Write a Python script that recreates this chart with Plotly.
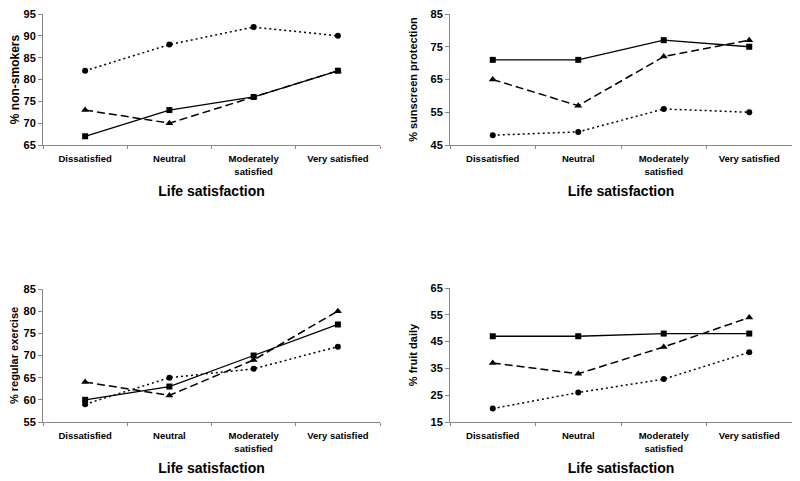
import plotly.graph_objects as go
from plotly.subplots import make_subplots

categories = ["Dissatisfied", "Neutral", "Moderately<br>satisfied", "Very satisfied"]

# Panel 1: % non-smokers
smk_square = [67, 73, 76, 82]
smk_triangle = [73, 70, 76, 82]
smk_circle = [82, 88, 92, 90]

# Panel 2: % sunscreen protection
sun_square = [71, 71, 77, 75]
sun_triangle = [65, 57, 72, 77]
sun_circle = [48, 49, 56, 55]

# Panel 3: % regular exercise
ex_square = [60, 63, 70, 77]
ex_triangle = [64, 61, 69, 80]
ex_circle = [59, 65, 67, 72]

# Panel 4: % fruit daily
fr_square = [47, 47, 48, 48]
fr_triangle = [37, 33, 43, 54]
fr_circle = [20, 26, 31, 41]

panels = [
    ("% non-smokers", smk_square, smk_triangle, smk_circle, [65, 95], 5),
    ("% sunscreen protection", sun_square, sun_triangle, sun_circle, [45, 85], 10),
    ("% regular exercise", ex_square, ex_triangle, ex_circle, [55, 85], 5),
    ("% fruit daily", fr_square, fr_triangle, fr_circle, [15, 65], 10),
]
ytitle_sizes = [12, 11, 11, 11]

# page body has an 8px margin, so the figure is drawn offset by 8px
W, H = 792, 473
OFF = 8
# pixel boxes in screen coords (x0, x1, ytop, ybottom)
boxes = [(43, 380, 14, 145), (450, 792, 14, 145), (43, 380, 289, 422), (450, 792, 288, 422)]

fig = make_subplots(rows=2, cols=2)
font = "Liberation Sans, Arial, sans-serif"

for i, (ytitle, sq, tr, ci, yr, dt) in enumerate(panels):
    r, c = i // 2 + 1, i % 2 + 1
    fig.add_trace(go.Scatter(x=categories, y=ci, mode="lines+markers",
                             line=dict(color="black", width=1.5, dash="2px,3px"),
                             marker=dict(symbol="circle", size=6, color="black")), row=r, col=c)
    fig.add_trace(go.Scatter(x=categories, y=tr, mode="lines+markers",
                             line=dict(color="black", width=1.5, dash="8px,4px"),
                             marker=dict(symbol="triangle-up", size=7, color="black")), row=r, col=c)
    fig.add_trace(go.Scatter(x=categories, y=sq, mode="lines+markers",
                             line=dict(color="black", width=1.3),
                             marker=dict(symbol="square", size=6, color="black")), row=r, col=c)
    x0, x1, yt, yb = [v - OFF for v in boxes[i]]
    fig.update_xaxes(domain=[x0 / W, min(x1 / W, 1.0)], type="category", range=[-0.5, 3.5],
                     automargin=False,
                     showline=True, linecolor="#888888", linewidth=1,
                     ticks="outside", tickson="boundaries", ticklen=3, tickcolor="#888888",
                     ticklabelstandoff=5, ticklabeloverflow="allow",
                     showgrid=False, zeroline=False,
                     tickfont=dict(family=font, size=9.5, color="black", weight="bold"),
                     title=dict(text="<b>Life satisfaction</b>", standoff=10,
                                font=dict(family=font, size=14, color="black")),
                     row=r, col=c)
    fig.update_yaxes(domain=[1 - yb / H, 1 - yt / H], range=yr, dtick=dt, tick0=yr[0],
                     automargin=False,
                     showline=True, linecolor="#888888", linewidth=1,
                     ticks="outside", ticklen=4, tickcolor="#888888",
                     ticklabeloverflow="allow",
                     showgrid=False, zeroline=False,
                     tickfont=dict(family=font, size=11, color="black", weight="bold"),
                     title=dict(text="<b>" + ytitle + "</b>", standoff=10,
                                font=dict(family=font, size=ytitle_sizes[i], color="black")),
                     row=r, col=c)

fig.update_layout(width=W, height=H, margin=dict(l=0, r=0, t=0, b=0),
                  showlegend=False, plot_bgcolor="white", paper_bgcolor="white")
fig.write_html("out.html")
